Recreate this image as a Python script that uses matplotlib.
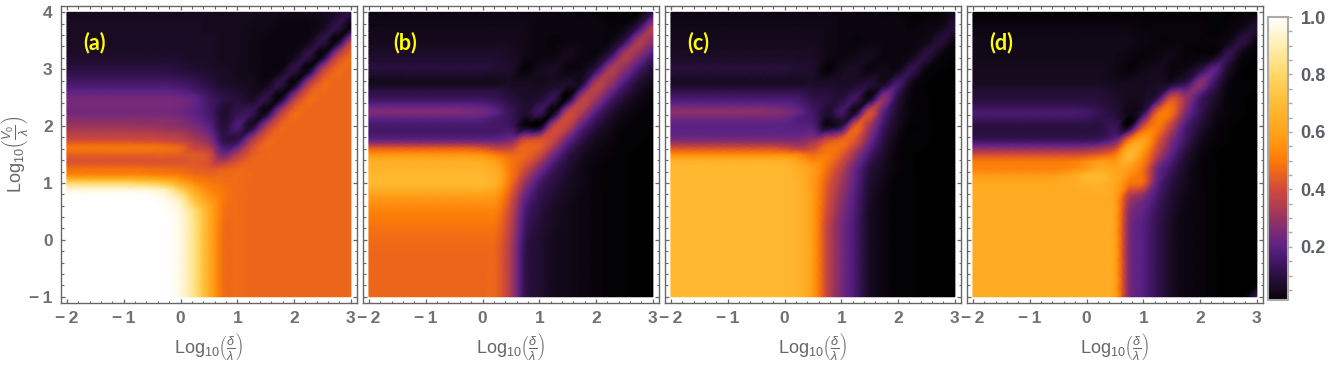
import numpy as np
import matplotlib
matplotlib.use("Agg")
import matplotlib.pyplot as plt
from matplotlib.colors import LinearSegmentedColormap
from matplotlib.ticker import MultipleLocator
from matplotlib.tri import Triangulation, UniformTriRefiner, CubicTriInterpolator

plt.rcParams['font.family'] = ['Liberation Sans', 'DejaVu Sans']
plt.rcParams['mathtext.fontset'] = 'custom'
plt.rcParams['mathtext.rm'] = 'Liberation Sans'
plt.rcParams['mathtext.it'] = 'Liberation Sans:italic'
plt.rcParams['mathtext.bf'] = 'Liberation Sans:bold'

x_nodes = [-2, -1.75, -1.5, -1.25, -1, -.75, -.5, -.25, 0, .25, .5, .75, 1, 1.25, 1.5, 1.75, 2, 2.25, 2.5, 2.75, 3]
y_nodes = [4, 3.75, 3.5, 3.25, 3, 2.75, 2.5, 2.25, 2, 1.75, 1.5, 1.25, 1, .75, .5, .25, 0, -.25, -.5, -.75, -1]
#extra rows for the stripes on the left, only x_nodes up to 0.25
y_half = [2.625, 2.375, 2.125, 1.875, 1.625, 1.375, 1.125, .875]

#values in percent, rows follow y_nodes
panel_a = [
    [5,5,5,5,5,5,5,5,5,5,5,5,5,5,4,4,4,4,5,7,10],
    [6,6,6,6,6,6,6,6,6,6,5,5,5,4,4,3,3,3,5,11,3],
    [6,6,6,6,6,6,6,6,6,6,6,5,5,4,3,3,3,4,11,3,34],
    [7,7,7,7,7,7,7,7,7,6,6,5,5,4,3,3,4,11,3,34,46],
    [10,10,10,10,10,10,10,10,9,8,7,6,5,4,3,3,11,3,34,46,46],
    [16,16,16,16,16,16,16,16,15,13,10,7,6,5,4,11,3,33,46,46,46],
    [24,24,24,24,24,24,24,24,23,21,15,11,9,6,11,3,32,46,46,46,46],
    [24,24,24,24,24,24,24,24,23,20,16,8,12,13,4,32,46,46,46,46,46],
    [31,31,31,31,31,30,30,29,28,25,20,9,17,7,32,45,46,46,46,46,46],
    [41,41,41,41,41,40,40,39,37,33,28,12,12,33,45,46,46,46,46,46,46],
    [45,45,45,45,45,45,45,45,44,43,40,24,34,44,46,46,46,46,46,46,46],
    [48,48,48,48,48,48,47,47,46,44,43,44,46,46,46,46,46,46,46,46,46],
    [80,80,80,80,80,78,76,72,62,54,50,48,47,46,46,46,46,46,46,46,46],
    [100,100,100,100,100,100,99,96,88,70,57,50,47,46,46,46,46,46,46,46,46],
    [100,100,100,100,100,100,100,99,95,82,64,49,47,46,46,46,46,46,46,46,46],
    [100,100,100,100,100,100,100,100,96,84,64,48,47,46,46,46,46,46,46,46,46],
    [100,100,100,100,100,100,100,100,96,84,64,48,47,46,46,46,46,46,46,46,46],
    [100,100,100,100,100,100,100,100,96,84,64,48,47,46,46,46,46,46,46,46,46],
    [100,100,100,100,100,100,100,100,96,84,64,48,47,46,46,46,46,46,46,46,46],
    [100,100,100,100,100,100,100,100,96,84,64,48,47,46,46,46,46,46,46,46,46],
    [100,100,100,100,100,100,100,100,96,84,64,48,47,46,46,46,46,46,46,46,46],
]
half_a = [
    [20,20,20,20,20,20,20,20,19,16],
    [25,25,25,25,25,25,25,25,24,21],
    [27,27,27,27,27,27,27,27,26,22],
    [35,35,35,35,35,35,35,34,33,29],
    [49,49,49,49,49,49,49,48,46,38],
    [42,42,42,42,42,42,42,42,42,43],
    [55,55,55,55,55,55,54,53,51,48],
    [95,95,95,95,95,95,94,90,78,62],
]

panel_b = [
    [3,3,3,3,3,3,3,3,3,3,3,3,3,3,3,2,2,1,1,1,12],
    [4,4,4,4,4,4,4,4,4,4,4,4,3,3,3,3,3,2,3,12,33],
    [5,5,5,5,5,5,5,5,5,5,5,4,3,2,3,3,3,3,12,33,28],
    [7,7,7,7,7,7,7,7,7,7,6,4,3,3,5,3,3,12,33,28,16],
    [9,9,9,9,9,9,9,9,9,8,7,2,5,6,3,4,12,33,28,16,8],
    [5,5,5,5,5,5,5,5,5,5,6,6,5,6,7,8,34,30,17,8,4],
    [13,13,13,13,13,13,13,13,13,12,9,7,8,12,2,34,32,18,9,4,2],
    [26,26,26,26,26,26,26,25,24,20,13,8,14,3,36,34,19,9,4,2,1],
    [16,16,16,16,16,16,16,16,16,15,14,3,2,36,37,20,10,5,2,1,1],
    [22,22,22,22,22,22,22,22,22,22,26,40,42,38,22,11,5,3,1,1,0],
    [56,56,56,56,56,56,56,56,55,50,46,46,40,24,12,6,3,2,1,0,0],
    [66,66,66,66,66,66,66,66,66,62,50,40,26,14,8,4,2,1,1,0,0],
    [68,68,68,68,68,68,68,68,68,64,48,30,16,10,6,4,2,1,1,0,0],
    [58,58,58,58,58,58,58,58,58,56,42,22,12,8,5,3,2,1,1,0,0],
    [52,52,52,52,52,52,52,52,52,51,38,17,10,6,4,3,2,1,1,0,0],
    [49,49,49,49,49,49,49,49,49,48,36,15,9,6,4,3,2,1,1,0,0],
    [47,47,47,47,47,47,47,47,47,46,34,13,8,5,4,3,2,1,1,0,0],
    [46,46,46,46,46,46,46,46,46,45,33,12,8,5,4,3,2,1,1,0,0],
    [46,46,46,46,46,46,46,46,46,45,33,12,8,5,4,3,2,1,1,0,0],
    [46,46,46,46,46,46,46,46,46,45,33,12,8,5,4,3,2,1,1,0,0],
    [46,46,46,46,46,46,46,46,46,45,33,12,8,5,4,3,2,1,1,0,0],
]
half_b = [
    [10,10,10,10,10,10,10,10,10,10],
    [20,20,20,20,20,20,20,20,19,16],
    [20,20,20,20,20,20,20,20,19,16],
    [16,16,16,16,16,16,16,16,16,16],
    [42,42,42,42,42,42,42,42,40,36],
    [64,64,64,64,64,64,64,64,63,58],
    [68,68,68,68,68,68,68,68,68,64],
    [64,64,64,64,64,64,64,64,64,60],
]

panel_c = [
    [3,3,3,3,3,3,3,3,3,3,3,3,3,3,3,2,2,1,1,2,5],
    [4,4,4,4,4,4,4,4,4,4,4,4,3,3,3,3,3,2,3,4,9],
    [5,5,5,5,5,5,5,5,5,5,5,4,3,2,3,3,3,3,4,9,3],
    [6,6,6,6,6,6,6,6,6,6,6,4,3,4,5,3,3,4,10,3,1],
    [9,9,9,9,9,9,9,9,9,8,7,2,5,6,3,4,4,12,3,1,0],
    [6,6,6,6,6,6,6,6,6,6,7,7,6,7,9,6,16,4,1,0,0],
    [16,16,16,16,16,16,16,16,16,15,11,10,9,14,4,28,10,2,1,0,0],
    [28,28,28,28,28,28,28,27,26,22,15,8,15,6,40,20,7,2,1,0,0],
    [20,20,20,20,20,20,20,20,20,19,18,4,10,44,32,14,5,1,1,0,0],
    [26,26,26,26,26,26,26,26,26,26,30,40,46,42,24,10,3,1,1,0,0],
    [54,54,54,54,54,54,54,54,54,52,47,50,44,30,16,7,2,1,0,0,0],
    [68,68,68,68,68,68,68,68,68,64,58,48,36,22,10,5,2,1,0,0,0],
    [68,68,68,68,68,68,68,68,68,66,58,44,32,20,8,4,1,1,0,0,0],
    [68,68,68,68,68,68,68,68,68,66,58,42,29,18,7,3,1,1,0,0,0],
    [68,68,68,68,68,68,68,68,68,66,58,40,27,17,6,3,1,1,0,0,0],
    [68,68,68,68,68,68,68,68,68,66,58,38,25,16,6,3,1,1,0,0,0],
    [68,68,68,68,68,68,68,68,68,66,58,38,25,16,6,3,1,1,0,0,0],
    [68,68,68,68,68,68,68,68,68,66,58,38,25,16,6,3,1,1,0,0,0],
    [68,68,68,68,68,68,68,68,68,66,58,38,25,16,6,3,1,1,0,0,0],
    [68,68,68,68,68,68,68,68,68,66,58,38,25,16,6,3,1,1,0,0,0],
    [68,68,68,68,68,68,68,68,68,66,58,38,25,16,6,3,1,1,0,0,0],
]
half_c = [
    [11,11,11,11,11,11,11,11,11,11],
    [22,22,22,22,22,22,22,22,21,18],
    [23,23,23,23,23,23,23,23,22,18],
    [21,21,21,21,21,21,21,21,21,21],
    [40,40,40,40,40,40,40,40,38,34],
    [66,66,66,66,66,66,66,66,65,60],
    [68,68,68,68,68,68,68,68,68,65],
    [68,68,68,68,68,68,68,68,68,66],
]

panel_d = [
    [1,1,1,1,1,1,1,1,1,1,1,1,1,1,1,1,1,1,1,2,3],
    [3,3,3,3,3,3,3,3,3,3,3,3,2,2,2,2,2,1,2,4,8],
    [4,4,4,4,4,4,4,4,4,4,4,4,3,2,2,2,2,2,4,10,3],
    [4,4,4,4,4,4,4,4,4,4,4,3,2,3,4,2,2,3,12,3,1],
    [5,5,5,5,5,5,5,5,5,5,4,2,4,5,3,4,10,20,7,1,0],
    [6,6,6,6,6,6,6,6,6,6,5,5,5,6,7,12,28,14,3,1,1],
    [9,9,9,9,9,9,9,9,9,9,7,5,6,12,40,30,16,8,2,1,0],
    [16,16,16,16,16,16,16,16,15,12,9,4,10,45,48,26,13,5,2,1,0],
    [10,10,10,10,10,10,10,10,10,10,13,4,40,50,36,17,9,3,1,0,0],
    [14,14,14,14,14,14,14,14,14,15,22,50,60,44,26,14,5,2,1,0,0],
    [40,40,40,40,40,40,40,40,41,44,50,68,55,36,20,9,3,1,0,0,0],
    [52,52,52,52,52,52,52,54,58,62,60,58,48,24,14,6,2,1,0,0,0],
    [62,62,62,62,62,62,62,63,66,66,62,50,46,20,10,5,2,1,0,0,0],
    [63,63,63,63,63,63,63,63,63,63,60,34,26,16,8,4,2,1,0,0,0],
    [63,63,63,63,63,63,63,63,63,63,60,28,21,13,7,3,2,1,0,0,0],
    [63,63,63,63,63,63,63,63,63,63,60,26,19,12,6,3,2,1,0,0,0],
    [63,63,63,63,63,63,63,63,63,63,60,26,19,12,6,3,2,1,0,0,0],
    [63,63,63,63,63,63,63,63,63,63,60,26,19,12,6,3,2,1,0,0,0],
    [63,63,63,63,63,63,63,63,63,63,60,26,19,12,6,3,2,1,0,0,0],
    [63,63,63,63,63,63,63,63,63,63,60,26,19,12,6,3,2,1,0,0,0],
    [63,63,63,63,63,63,63,63,63,63,60,26,19,12,6,3,2,1,0,0,14],
]
half_d = [
    [8,8,8,8,8,8,8,8,8,8],
    [12,12,12,12,12,12,12,12,11,10],
    [14,14,14,14,14,14,14,14,13,11],
    [10,10,10,10,10,10,10,10,10,11],
    [26,26,26,26,26,26,26,26,27,30],
    [50,50,50,50,50,50,50,51,54,58],
    [58,58,58,58,58,58,59,62,68,68],
    [63,63,63,63,63,63,63,63,64,65],
]

panels = [panel_a, panel_b, panel_c, panel_d]
halves = [half_a, half_b, half_c, half_d]
letters = ['(a)', '(b)', '(c)', '(d)']
letter_x = [-1.52, -1.37, -1.52, -1.51]
x_ticks = [-2, -1, 0, 1, 2, 3]
y_ticks = [-1, 0, 1, 2, 3, 4]
bar_ticks = [0.2, 0.4, 0.6, 0.8, 1.0]

#sunset style colours
cmap_stops = [0, .05, .1, .15, .2, .25, .3, .35, .4, .45, .5, .55, .6, .7, .8, .9, 1]
cmap_cols = ['#000000', '#160a1e', '#2b1042', '#431766', '#5c2285', '#7a2a78', '#96345f', '#b5404c',
             '#d04a3b', '#e8621f', '#fb7a08', '#ff9010', '#ffa31a', '#ffbc35', '#ffd766', '#ffeeb0', '#ffffff']
cmap = LinearSegmentedColormap.from_list('sunset', list(zip(cmap_stops, cmap_cols)))

#mesh: quads are cut along y=x so the diagonal ridges stay sharp
nx, ny = len(x_nodes), len(y_nodes)
nh = 10
px = [x_nodes[c] for r in range(ny) for c in range(nx)] + [x_nodes[c] for r in range(len(y_half)) for c in range(nh)]
py = [y_nodes[r] for r in range(ny) for c in range(nx)] + [y_half[r] for r in range(len(y_half)) for c in range(nh)]
tris = []
for r in range(ny-1):
    for c in range(nx-1):
        ul, ur = r*nx+c, r*nx+c+1
        ll, lr = (r+1)*nx+c, (r+1)*nx+c+1
        k = r-5
        if 0 <= k < len(y_half) and c < nh:
            ml = nx*ny + k*nh + c
            if c < nh-1:
                mr = ml+1
                tris += [[ml, mr, ur], [ml, ur, ul], [ll, lr, mr], [ll, mr, ml]]
            else:
                tris += [[ul, ml, ur], [ml, lr, ur], [ml, ll, lr]]
        else:
            tris += [[ll, lr, ur], [ll, ur, ul]]
mesh = Triangulation(px, py, tris)
refiner = UniformTriRefiner(mesh)

W, H = 1336, 369
gray = '#666666'
frame_left = [61, 363, 665, 967]
frame_w = 295.5
frame_top, frame_bottom = 5.5, 303

fig = plt.figure(figsize=(W/100, H/100), dpi=100)

for i in range(4):
    ax = fig.add_axes([frame_left[i]/W, 1-frame_bottom/H, frame_w/W, (frame_bottom-frame_top)/H])
    vals = np.concatenate([np.ravel(panels[i]), np.ravel(halves[i])])/100.0
    interp = CubicTriInterpolator(mesh, vals, kind='geom')
    fine, fine_vals = refiner.refine_field(vals, triinterpolator=interp, subdiv=3)
    im = ax.tripcolor(fine, fine_vals, shading='gouraud', cmap=cmap, vmin=0, vmax=1)
    ax.set_xlim(-2.106, 3.1)
    ax.set_ylim(-1.11, 4.12)
    ax.set_xticks(x_ticks)
    ax.set_xticklabels([str(t).replace('-', '\u2212\u2009') for t in x_ticks], fontweight='bold')
    ax.set_yticks(y_ticks)
    if i == 0:
        ax.set_yticklabels([str(t).replace('-', '\u2212\u2009') for t in y_ticks], fontweight='bold')
        ax.set_ylabel(r'$\mathrm{Log}_{10}\left(\frac{V_0}{\lambda}\right)$', fontsize=13, color=gray)
        ax.yaxis.set_label_coords(-0.105, 0.5)
    else:
        ax.set_yticklabels([])
    ax.xaxis.set_minor_locator(MultipleLocator(0.2))
    ax.yaxis.set_minor_locator(MultipleLocator(0.2))
    ax.tick_params(which='major', direction='in', top=True, right=True, length=3.2, width=0.9, color=gray,
                   labelcolor='#707070', labelsize=12.5, pad=6)
    ax.tick_params(which='minor', direction='in', top=True, right=True, length=1.8, width=0.8, color=gray)
    for s in ax.spines.values():
        s.set_color(gray)
        s.set_linewidth(1.0)
    ax.set_xlabel(r'$\mathrm{Log}_{10}\left(\frac{\delta}{\lambda}\right)$', fontsize=13, color=gray, labelpad=3)
    ax.text(letter_x[i], 3.47, letters[i], color='#ffff00', fontsize=15.5, fontweight='bold', family='Lato',
            ha='center', va='center')

#colorbar
cax = fig.add_axes([1268/W, 1-300/H, 20/W, 283/H])
cb = fig.colorbar(im, cax=cax)
cb.set_ticks(bar_ticks)
cb.set_ticklabels(['%.1f' % t for t in bar_ticks])
cax.yaxis.set_minor_locator(MultipleLocator(0.05))
cax.set_ylim(0.015, 1.0)
cax.tick_params(which='major', length=3, width=1, color='#aaaaaa', labelcolor='#5a5f66', labelsize=13, pad=6)
cax.tick_params(which='minor', length=3, width=1, color='#aaaaaa')
for t in cax.get_yticklabels():
    t.set_fontweight('bold')
cb.outline.set_edgecolor('#aaaaaa')
cb.outline.set_linewidth(1.5)

fig.savefig('out.png', dpi=100)
